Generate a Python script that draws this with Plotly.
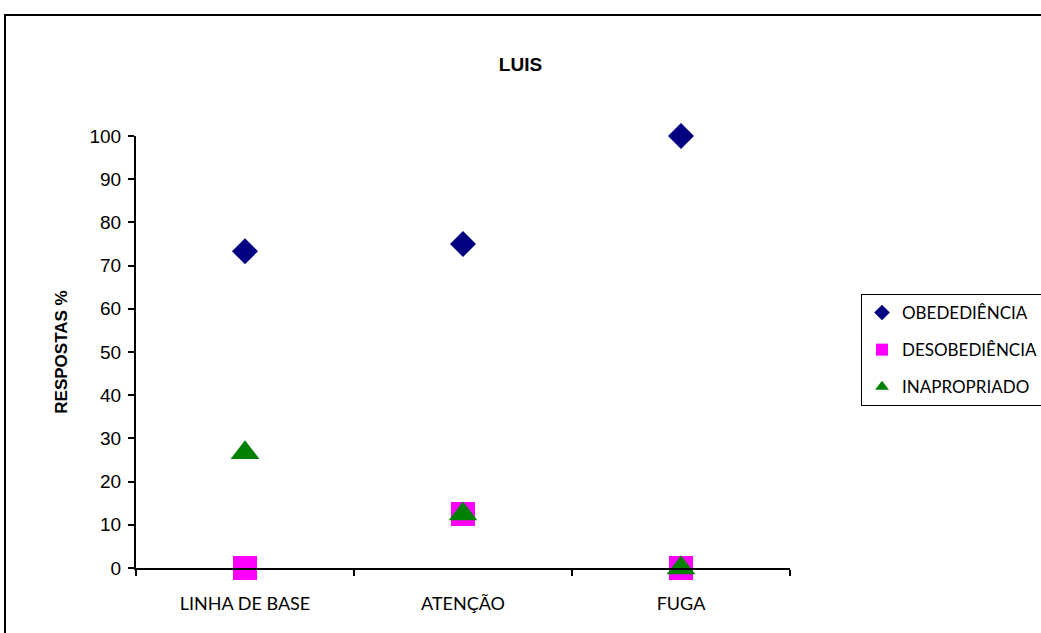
import plotly.graph_objects as go

# Response percentages per condition
categorias = ["LINHA DE BASE", "ATENÇÃO", "FUGA"]
obedediencia = [73.3, 75.0, 100.0]
desobediencia = [0.0, 12.5, 0.0]
inapropriado = [26.7, 12.5, 0.0]
y_ticks = [0, 10, 20, 30, 40, 50, 60, 70, 80, 90, 100]

W, H = 1041, 633
L, R, T, B = 136, 790, 136, 568  # plot area in pixels


def px_x(x):
    return (x - L) / (R - L)


def px_y(y):
    return (B - y) / (B - T)


fig = go.Figure()
series = [
    ("OBEDEDIÊNCIA", obedediencia, "diamond", "#000080", 20),
    ("DESOBEDIÊNCIA", desobediencia, "square", "#FF00FF", 24),
    ("INAPROPRIADO", inapropriado, "triangle-up", "#008000", 25),
]
for i, (name, vals, sym, col, size) in enumerate(series):
    fig.add_trace(go.Scatter(
        x=categorias, y=vals, name=name, mode="markers",
        marker=dict(symbol=sym, color=col, size=size, line=dict(width=0)),
        cliponaxis=False, legendgroup=f"g{i}",
    ))

fig.update_layout(
    width=W, height=H,
    margin=dict(l=L, r=W - R, t=T, b=H - B, pad=0, autoexpand=False),
    paper_bgcolor="white", plot_bgcolor="white",
    font=dict(family="Liberation Sans, Arial", color="black"),
    title=dict(text="<b>LUIS</b>", x=0.5, xref="container", xanchor="center",
               y=1 - 64 / H, yref="container", yanchor="middle",
               font=dict(size=19, family="Liberation Sans, Arial")),
    showlegend=True,
    legend=dict(
        xref="container", yref="container",
        x=861 / W, y=1 - 294 / H, xanchor="left", yanchor="top",
        bordercolor="black", borderwidth=1, bgcolor="white",
        font=dict(size=17, family="Lato"),
        itemsizing="constant", tracegroupgap=12,
    ),
    xaxis=dict(
        type="category", range=[-0.5, 2.5], tickson="boundaries",
        ticks="outside", ticklen=6, tickwidth=1.5, tickcolor="black",
        showline=True, linecolor="black", linewidth=2,
        showgrid=False, zeroline=False, automargin=False,
        tickfont=dict(size=18, family="Lato"), ticklabelstandoff=18,
    ),
    yaxis=dict(
        range=[0, 100], tickvals=y_ticks, ticktext=[str(v) for v in y_ticks],
        ticks="outside", ticklen=6, tickwidth=1.5, tickcolor="black",
        showline=True, linecolor="black", linewidth=2,
        showgrid=False, zeroline=False, automargin=False,
        tickfont=dict(size=19, family="Liberation Sans, Arial"),
        ticklabelstandoff=3,
        title=dict(text="<b>RESPOSTAS %</b>", standoff=18,
                   font=dict(size=17, family="Liberation Sans, Arial")),
    ),
    shapes=[dict(
        type="rect", xref="paper", yref="paper",
        x0=px_x(5), x1=px_x(1050), y0=px_y(15), y1=px_y(645),
        line=dict(color="black", width=2), fillcolor="rgba(0,0,0,0)",
        layer="below",
    )],
)

fig.write_html("out.html")
